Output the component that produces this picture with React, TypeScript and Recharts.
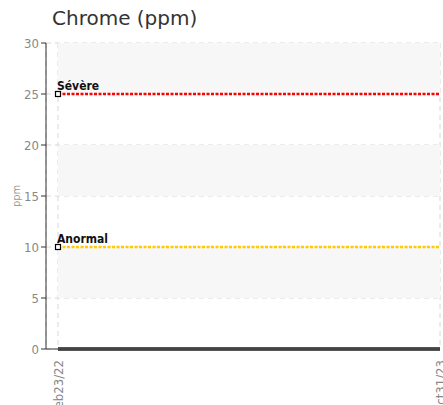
import React from "react";
import { LineChart, Line, XAxis, YAxis, CartesianGrid, Label, ReferenceArea } from "recharts";

const dates = ["Feb23/22", "Oct31/23"];
const chromeValues = [0, 0];
const severeValues = [25, 25];
const abnormalValues = [10, 10];
const yTicks = [0, 5, 10, 15, 20, 25, 30];
const shadedBands = [
  [5, 10],
  [15, 20],
  [25, 30],
];

const data = dates.map((d, i) => ({
  date: d,
  chrome: chromeValues[i],
  severe: severeValues[i],
  abnormal: abnormalValues[i],
}));

const tickFont = "'DejaVu Sans Condensed', 'Liberation Sans Narrow', 'Roboto', sans-serif";

const makeDot = (label: string) => (props: any) => {
  const { cx, cy, index } = props;
  if (index !== 0) return <g key={`d${index}`} />;
  return (
    <g key={`d${index}`}>
      <rect x={cx - 2.5} y={cy - 2.5} width={5} height={5} fill="#fff" stroke="#000" strokeWidth={1.2} />
      <text x={cx - 1} y={cy - 4} fontSize={12} fontFamily={tickFont} fill="#111" fontWeight={600}>
        {label}
      </text>
    </g>
  );
};

const XTick = (props: any) => {
  const { x, y, payload } = props;
  return (
    <text
      transform={`translate(${x + 5},${y + 3}) rotate(-90)`}
      textAnchor="end"
      fontSize={13}
      fontFamily={tickFont}
      fill="#888"
    >
      {payload.value}
    </text>
  );
};

export default function App() {
  return (
    <div style={{ position: "absolute", left: 0, top: 0, width: 443, height: 405, background: "#fff" }}>
      <div
        style={{
          position: "absolute",
          left: 52,
          top: 6,
          fontFamily: "'DejaVu Sans', sans-serif",
          fontSize: 20,
          color: "#333",
          whiteSpace: "nowrap",
        }}
      >
        Chrome (ppm)
      </div>
      <LineChart width={443} height={405} data={data} margin={{ top: 43, right: 3, left: 0, bottom: 0 }}>
        {shadedBands.map(([a, b], i) => (
          <ReferenceArea key={i} y1={a} y2={b} fill="#f7f7f7" fillOpacity={1} stroke="none" />
        ))}
        <CartesianGrid stroke="#d8d8d8" strokeDasharray="5 4" />
        <XAxis
          dataKey="date"
          height={56}
          padding={{ left: 12, right: 0 }}
          tick={<XTick />}
          tickLine={false}
          axisLine={{ stroke: "#333" }}
          interval={0}
        />
        <YAxis
          width={46}
          domain={[0, 30]}
          ticks={yTicks}
          tick={{ fontSize: 13, fill: "#888", fontFamily: tickFont }}
          tickLine={{ stroke: "#333" }}
          tickSize={5}
          axisLine={{ stroke: "#333" }}
        >
          <Label value="ppm" angle={-90} position="insideLeft" offset={16} style={{ fontSize: 11, fill: "#999", fontFamily: tickFont, textAnchor: "middle" }} />
        </YAxis>
        <Line
          dataKey="severe"
          stroke="#ff0000"
          strokeWidth={2.5}
          strokeDasharray="3 1.5"
          dot={makeDot("Sévère")}
          activeDot={false}
          isAnimationActive={false}
        />
        <Line
          dataKey="abnormal"
          stroke="#ffcc00"
          strokeWidth={2.5}
          strokeDasharray="3 1.5"
          dot={makeDot("Anormal")}
          activeDot={false}
          isAnimationActive={false}
        />
        <Line
          dataKey="chrome"
          stroke="#555"
          strokeWidth={4}
          dot={false}
          activeDot={false}
          isAnimationActive={false}
        />
      </LineChart>
    </div>
  );
}
